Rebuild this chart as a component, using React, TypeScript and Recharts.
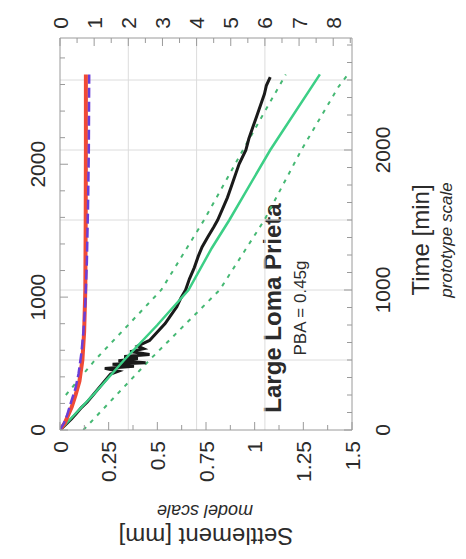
import { Customized, Line, LineChart, ReferenceLine, XAxis, YAxis } from "recharts";

// settlement [mm] (model scale) against time [min] (prototype scale)
const redT = [0, 50, 100, 164, 250, 350, 500, 700, 1000, 1500, 2000, 2540];
const redS = [0, 0.025, 0.04, 0.06, 0.08, 0.1, 0.115, 0.124, 0.13, 0.132, 0.133, 0.133];

const purpleT = [0, 50, 100, 214, 300, 400, 550, 700, 900, 1200, 1600, 2000, 2540];
const purpleS = [0, 0.02, 0.035, 0.06, 0.08, 0.095, 0.11, 0.12, 0.13, 0.138, 0.144, 0.148, 0.15];

const blackT = [
  0, 40, 80, 120, 160, 200, 250, 300, 350, 400, 420, 440, 455, 470, 480, 495, 510, 525, 540, 560,
  580, 600, 640, 700, 760, 820, 880, 940, 1000, 1080, 1160, 1240, 1307, 1380, 1450, 1500, 1580,
  1660, 1740, 1820, 1900, 2000, 2080, 2160, 2240, 2320, 2400, 2460, 2520,
];
const blackS = [
  0, 0.03, 0.06, 0.085, 0.11, 0.14, 0.17, 0.2, 0.23, 0.26, 0.3, 0.23, 0.38, 0.27, 0.44, 0.3, 0.4,
  0.33, 0.46, 0.36, 0.43, 0.4, 0.46, 0.5, 0.54, 0.57, 0.6, 0.62, 0.645, 0.665, 0.69, 0.71, 0.73,
  0.76, 0.79, 0.81, 0.835, 0.86, 0.88, 0.9, 0.92, 0.955, 0.97, 0.99, 1.01, 1.03, 1.05, 1.06, 1.08,
];

const fitT = [0, 250, 500, 750, 1000, 1300, 1500, 2000, 2540];
const fitS = [0, 0.17, 0.33, 0.5, 0.66, 0.78, 0.87, 1.08, 1.335];

const lowT = [250, 500, 1000, 1500, 2000, 2540];
const lowS = [0.03, 0.18, 0.52, 0.74, 0.94, 1.16];

const highT = [0, 500, 1000, 1500, 2000, 2450, 2560];
const highS = [0.12, 0.46, 0.82, 1.05, 1.24, 1.43, 1.49];

// axes
const bottomTicks = [0, 0.125, 0.25, 0.375, 0.5, 0.625, 0.75, 0.875, 1, 1.125, 1.25, 1.375, 1.5];
const bottomLabels = [0, 0.25, 0.5, 0.75, 1, 1.25, 1.5];
const topTicks = [0, 0.5, 1, 1.5, 2, 2.5, 3, 3.5, 4, 4.5, 5, 5.5, 6, 6.5, 7, 7.5, 8, 8.5];
const topLabels = [0, 1, 2, 3, 4, 5, 6, 7, 8];
const leftTicks = [0, 200, 400, 600, 800, 1000, 1200, 1400, 1600, 1800, 2000, 2200, 2400, 2600, 2800];
const rightTicks = [
  0, 125, 250, 375, 500, 625, 750, 875, 1000, 1125, 1250, 1375, 1500, 1625, 1750, 1875, 2000, 2125,
  2250, 2375, 2500, 2625, 2750,
];
const timeLabels = [0, 1000, 2000];
const gridTop = [2, 4, 6];
const gridTime = [500, 1000, 1500, 2000, 2500];

const zip = (t: number[], s: number[]) => t.map((v, i) => ({ t: v, s: s[i] }));

const FONT = "'Liberation Sans', Arial, sans-serif";
const TEXT = "#2b2b2b";
const FRAME = "#9a9a9a";

function makeTick(side: "bottom" | "top" | "left" | "right", labels: number[]) {
  return (props: any) => {
    const { x, y, payload } = props;
    const v = payload.value as number;
    const labeled = labels.includes(v);
    const len = labeled ? 8 : 5;
    let line;
    let tr;
    let anchor = "middle";
    if (side === "bottom") {
      line = <line x1={x} y1={y} x2={x} y2={y - len} stroke={FRAME} />;
      tr = `translate(${x},${y + 11}) rotate(-90)`;
      anchor = "end";
    } else if (side === "top") {
      line = <line x1={x} y1={y} x2={x} y2={y + len} stroke={FRAME} />;
      tr = `translate(${x},${y - 15}) rotate(-90)`;
    } else if (side === "left") {
      line = <line x1={x} y1={y} x2={x + len} y2={y} stroke={FRAME} />;
      tr = `translate(${x - 23},${y}) rotate(-90)`;
    } else {
      line = <line x1={x} y1={y} x2={x - len} y2={y} stroke={FRAME} />;
      tr = `translate(${x + 30},${y}) rotate(-90)`;
    }
    return (
      <g>
        {line}
        {labeled && (
          <text
            transform={tr}
            textAnchor={anchor}
            dominantBaseline="central"
            fontFamily={FONT}
            fontSize={21}
            fill={TEXT}
          >
            {String(v)}
          </text>
        )}
      </g>
    );
  };
}

function Titles() {
  return (
    <g fontFamily={FONT} fill={TEXT}>
      <text transform="translate(206,536) rotate(180)" textAnchor="middle" dominantBaseline="central" fontSize={24}>
        Settlement [mm]
      </text>
      <text transform="translate(205,511) rotate(180)" textAnchor="middle" dominantBaseline="central" fontSize={18} fontStyle="italic">
        model scale
      </text>
      <text transform="translate(420,240) rotate(-90)" textAnchor="middle" dominantBaseline="central" fontSize={24}>
        Time [min]
      </text>
      <text transform="translate(446,240) rotate(-90)" textAnchor="middle" dominantBaseline="central" fontSize={17} fontStyle="italic">
        prototype scale
      </text>
      <text transform="translate(272,308) rotate(-90)" textAnchor="middle" dominantBaseline="central" fontSize={24} fontWeight="bold">
        Large Loma Prieta
      </text>
      <text transform="translate(300,308) rotate(-90)" textAnchor="middle" dominantBaseline="central" fontSize={17}>
        PBA = 0.45g
      </text>
    </g>
  );
}

export default function App() {
  return (
    <div style={{ position: "absolute", left: 0, top: 0, width: 466, height: 559, background: "#fff" }}>
      <LineChart width={466} height={559} margin={{ top: 0, right: 0, bottom: 0, left: 0 }}>
        <XAxis
          xAxisId="s"
          orientation="bottom"
          type="number"
          dataKey="s"
          domain={[0, 1.5]}
          allowDataOverflow
          ticks={bottomTicks}
          interval={0}
          height={129}
          tickSize={0}
          tickMargin={0}
          stroke={FRAME}
          tick={makeTick("bottom", bottomLabels)}
        />
        <XAxis
          xAxisId="top"
          orientation="top"
          type="number"
          dataKey="p"
          domain={[0, 8.55]}
          allowDataOverflow
          ticks={topTicks}
          interval={0}
          height={38}
          tickSize={0}
          tickMargin={0}
          stroke={FRAME}
          tick={makeTick("top", topLabels)}
        />
        <YAxis
          yAxisId="t"
          orientation="right"
          type="number"
          dataKey="t"
          domain={[0, 2800]}
          allowDataOverflow
          ticks={rightTicks}
          interval={0}
          width={114}
          tickSize={0}
          tickMargin={0}
          stroke={FRAME}
          tick={makeTick("right", timeLabels)}
        />
        <YAxis
          yAxisId="m"
          orientation="left"
          type="number"
          dataKey="m"
          domain={[0, 2950]}
          allowDataOverflow
          ticks={leftTicks}
          interval={0}
          width={60}
          tickSize={0}
          tickMargin={0}
          stroke={FRAME}
          tick={makeTick("left", timeLabels)}
        />
        {gridTop.map((v) => (
          <ReferenceLine key={"gx" + v} xAxisId="top" yAxisId="t" x={v} stroke="#dcdcdc" />
        ))}
        {gridTime.map((v) => (
          <ReferenceLine key={"gy" + v} xAxisId="s" yAxisId="t" y={v} stroke="#dcdcdc" />
        ))}
        <Line
          xAxisId="top"
          yAxisId="m"
          data={[{ p: 0, m: 0 }, { p: 8.55, m: 2950 }]}
          dataKey="m"
          stroke="none"
          dot={false}
          isAnimationActive={false}
        />
        <Line xAxisId="s" yAxisId="t" data={zip(lowT, lowS)} dataKey="t" stroke="#45b873" strokeWidth={2} strokeDasharray="4 6" dot={false} isAnimationActive={false} />
        <Line xAxisId="s" yAxisId="t" data={zip(highT, highS)} dataKey="t" stroke="#45b873" strokeWidth={2} strokeDasharray="4 6" dot={false} isAnimationActive={false} />
        <Line xAxisId="s" yAxisId="t" data={zip(blackT, blackS)} dataKey="t" stroke="#1a1a1a" strokeWidth={3} dot={false} isAnimationActive={false} />
        <Line xAxisId="s" yAxisId="t" data={zip(fitT, fitS)} dataKey="t" stroke="#3ccf86" strokeWidth={2.5} dot={false} isAnimationActive={false} />
        <Line xAxisId="s" yAxisId="t" data={zip(redT, redS)} dataKey="t" stroke="#f04a36" strokeWidth={4} dot={false} isAnimationActive={false} />
        <Line xAxisId="s" yAxisId="t" data={zip(purpleT, purpleS)} dataKey="t" stroke="#6a3fd8" strokeWidth={2.5} strokeDasharray="10 4" dot={false} isAnimationActive={false} />
        <Customized component={Titles} />
      </LineChart>
    </div>
  );
}
